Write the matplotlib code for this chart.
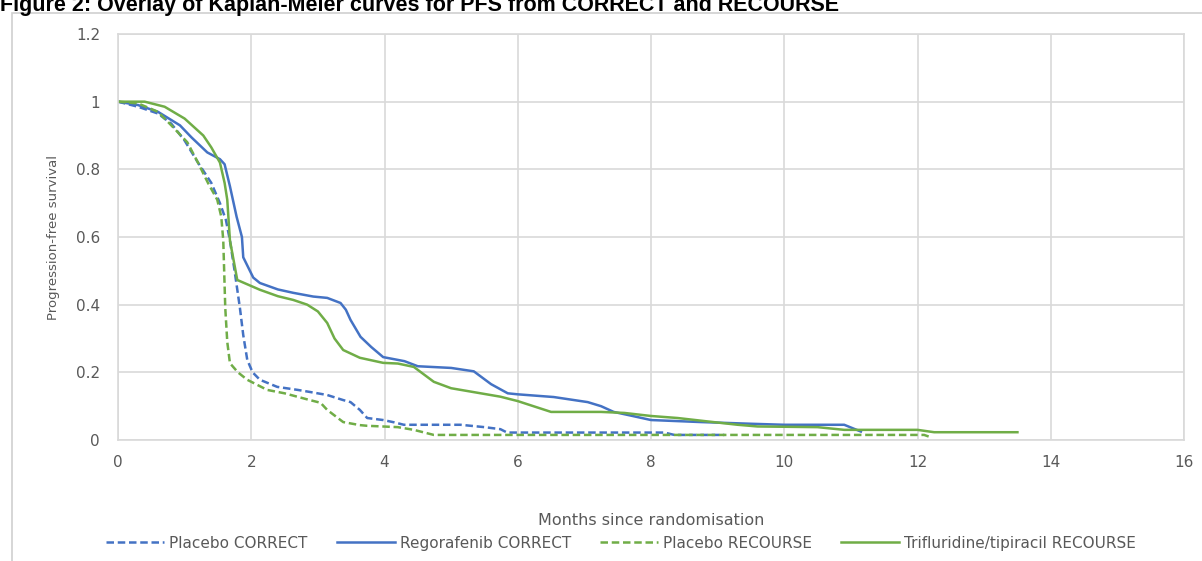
import matplotlib.pyplot as plt
from matplotlib.patches import Rectangle

# Kaplan-Meier curves (months, survival)
placebo_correct_x = [0, 0.3, 0.6, 0.8, 1.0, 1.2, 1.4, 1.53, 1.62, 1.68, 1.75, 1.83, 1.88, 1.94, 2.02, 2.13,
                     2.39, 2.7, 2.88, 3.14, 3.38, 3.49, 3.63, 3.74, 3.98, 4.15, 4.29, 5.14, 5.5, 5.74,
                     5.84, 6.0, 8.2, 8.35, 9.1]
placebo_correct_y = [1.0, 0.985, 0.965, 0.935, 0.885, 0.82, 0.76, 0.70, 0.65, 0.59, 0.50, 0.39, 0.31, 0.237, 0.20, 0.178,
                     0.157, 0.148, 0.142, 0.133, 0.118, 0.112, 0.089, 0.065, 0.059, 0.052, 0.045, 0.045, 0.038, 0.032,
                     0.022, 0.022, 0.022, 0.015, 0.015]

regorafenib_x = [0, 0.3, 0.6, 0.93, 1.1, 1.34, 1.53, 1.6, 1.68, 1.78, 1.86, 1.88, 2.03, 2.13, 2.4, 2.63,
                 2.93, 3.14, 3.34, 3.42, 3.49, 3.64, 3.8, 3.98, 4.3, 4.5, 5.0, 5.34, 5.6, 5.85, 6.0,
                 6.54, 7.05, 7.25, 7.44, 7.7, 8.0, 8.75, 9.5, 10.0, 10.9, 11.15]
regorafenib_y = [1.0, 0.99, 0.97, 0.93, 0.895, 0.85, 0.83, 0.815, 0.75, 0.66, 0.60, 0.54, 0.48, 0.464, 0.445, 0.435,
                 0.424, 0.42, 0.405, 0.385, 0.355, 0.305, 0.275, 0.245, 0.233, 0.218, 0.213, 0.203, 0.165, 0.138, 0.135,
                 0.127, 0.112, 0.10, 0.083, 0.072, 0.059, 0.053, 0.048, 0.045, 0.045, 0.025]

placebo_recourse_x = [0, 0.3, 0.6, 0.8, 1.04, 1.2, 1.35, 1.49, 1.55, 1.58, 1.61, 1.64, 1.68, 1.8, 1.94, 2.24,
                      2.5, 2.88, 3.04, 3.14, 3.38, 3.63, 3.74, 4.2, 4.44, 4.6, 4.74, 4.9, 12.1, 12.2]
placebo_recourse_y = [1.0, 0.995, 0.97, 0.93, 0.88, 0.82, 0.76, 0.71, 0.66, 0.59, 0.39, 0.29, 0.227, 0.2, 0.178, 0.148,
                      0.138, 0.118, 0.11, 0.089, 0.053, 0.044, 0.042, 0.038, 0.03, 0.022, 0.015, 0.015, 0.015, 0.008]

trifluridine_x = [0, 0.4, 0.7, 1.0, 1.28, 1.4, 1.53, 1.6, 1.64, 1.68, 1.79, 2.13, 2.4, 2.63, 2.84, 3.0,
                  3.14, 3.25, 3.38, 3.63, 3.98, 4.2, 4.44, 4.74, 5.0, 5.74, 6.0, 6.5, 7.25, 7.6, 8.0,
                  8.4, 8.8, 9.3, 9.6, 10.5, 10.9, 12.0, 12.25, 13.5]
trifluridine_y = [1.0, 1.0, 0.985, 0.95, 0.9, 0.865, 0.82, 0.76, 0.71, 0.59, 0.473, 0.444, 0.425, 0.414, 0.40, 0.38,
                  0.346, 0.30, 0.266, 0.243, 0.228, 0.226, 0.216, 0.172, 0.153, 0.128, 0.115, 0.083, 0.083, 0.08, 0.071,
                  0.065, 0.056, 0.045, 0.04, 0.038, 0.03, 0.03, 0.023, 0.023]

x_ticks = [0, 2, 4, 6, 8, 10, 12, 14, 16]
y_ticks = [0, 0.2, 0.4, 0.6, 0.8, 1.0, 1.2]
y_tick_labels = ['0', '0.2', '0.4', '0.6', '0.8', '1', '1.2']

blue = '#4472C4'
green = '#70AD47'
grey_txt = '#595959'
grid_col = '#D9D9D9'

plt.rcParams['font.family'] = ['DejaVu Sans']

fig = plt.figure(figsize=(12.02, 5.61), dpi=100)

# outer chart frame
fig.patches.append(Rectangle((12 / 1202, -0.1), 1.2, 1 - 13 / 561 + 0.1, transform=fig.transFigure,
                             fill=False, edgecolor='#D0D0D0', linewidth=1.2, zorder=0))

ax = fig.add_axes([118 / 1202, (561 - 440) / 561, (1184 - 118) / 1202, (440 - 34) / 561])

ax.plot(placebo_correct_x, placebo_correct_y, color=blue, lw=1.8, dashes=(3, 1.5), label='Placebo CORRECT')
ax.plot(regorafenib_x, regorafenib_y, color=blue, lw=1.8, label='Regorafenib CORRECT')
ax.plot(placebo_recourse_x, placebo_recourse_y, color=green, lw=1.8, dashes=(3, 1.5), label='Placebo RECOURSE')
ax.plot(trifluridine_x, trifluridine_y, color=green, lw=1.8, label='Trifluridine/tipiracil RECOURSE')

ax.set_xlim(0, 16)
ax.set_ylim(0, 1.2)
ax.set_xticks(x_ticks)
ax.set_yticks(y_ticks)
ax.set_yticklabels(y_tick_labels)
ax.tick_params(length=0, labelsize=11, labelcolor=grey_txt)
ax.tick_params(axis='x', pad=11)
ax.tick_params(axis='y', pad=13)
ax.grid(True, color=grid_col, lw=1.2)
ax.set_axisbelow(True)
for s in ax.spines.values():
    s.set_color(grid_col)
    s.set_linewidth(1.2)

ax.set_xlabel('Months since randomisation', fontsize=11.5, color=grey_txt, labelpad=31)
ax.set_ylabel('Progression-free survival', fontsize=9.5, color=grey_txt, labelpad=11)

ax.legend(loc='center', bbox_to_anchor=(0.472, -0.254), ncol=4, frameon=False,
          fontsize=11, labelcolor=grey_txt, handlelength=3.8, columnspacing=1.9, handletextpad=0.33)

fig.text(0.0, 1 - 11 / 561, 'Figure 2: Overlay of Kaplan-Meier curves for PFS from CORRECT and RECOURSE',
         family=['Liberation Sans', 'DejaVu Sans'], fontweight='bold', fontsize=15.5,
         va='baseline', ha='left', color='black')

fig.savefig('out.png', dpi=100)
